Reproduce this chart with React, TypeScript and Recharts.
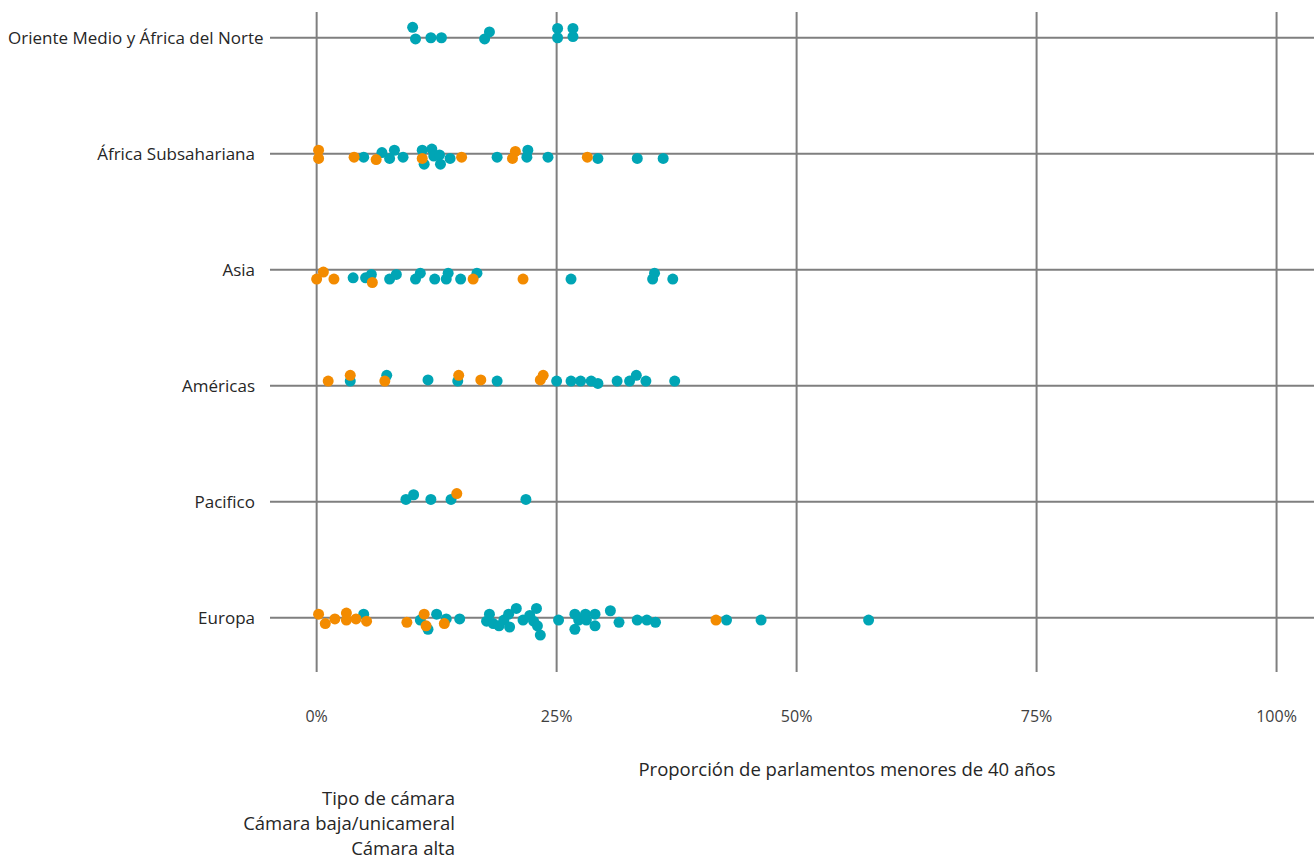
import { Legend, ReferenceLine, Scatter, ScatterChart, XAxis, YAxis } from "recharts";

// regions, top to bottom
const regions = [
  "Oriente Medio y África del Norte",
  "África Subsahariana",
  "Asia",
  "Américas",
  "Pacifico",
  "Europa"
];

const xTicks = [0, 25, 50, 75, 100];

// [% of MPs under 40, vertical jitter in row units]
const menaBaja = [[10.0, 0.09], [10.3, -0.01], [11.9, 0], [13.0, 0], [17.5, -0.01], [18.0, 0.05], [25.1, 0.08], [25.1, 0], [26.7, 0.08], [26.7, 0.01]];
const menaAlta: number[][] = [];

const africaBaja = [[4.9, -0.03], [6.8, 0.01], [7.6, -0.04], [8.1, 0.03], [9.0, -0.03], [11.0, 0.03], [11.2, -0.09], [12.0, 0.04], [12.2, -0.02], [12.8, -0.01], [12.9, -0.09], [13.9, -0.04], [18.8, -0.03], [21.9, -0.03], [22.0, 0.03], [24.1, -0.03], [29.3, -0.04], [33.4, -0.04], [36.1, -0.04]];
const africaAlta = [[0.2, 0.03], [0.2, -0.04], [3.9, -0.03], [6.2, -0.05], [11.0, -0.04], [15.1, -0.03], [20.7, 0.02], [20.4, -0.04], [28.2, -0.03]];

const asiaBaja = [[3.8, -0.07], [5.1, -0.07], [5.7, -0.04], [7.6, -0.08], [8.3, -0.04], [10.3, -0.08], [10.8, -0.03], [12.3, -0.08], [13.5, -0.08], [13.7, -0.03], [15.0, -0.08], [16.7, -0.03], [26.5, -0.08], [35.0, -0.08], [35.2, -0.03], [37.1, -0.08]];
const asiaAlta = [[0.0, -0.08], [0.7, -0.02], [1.8, -0.08], [5.8, -0.11], [16.3, -0.08], [21.5, -0.08]];

const americasBaja = [[3.5, 0.04], [7.3, 0.09], [11.6, 0.05], [14.7, 0.04], [18.8, 0.04], [25.0, 0.04], [26.5, 0.04], [27.5, 0.04], [28.6, 0.04], [29.3, 0.02], [31.3, 0.04], [32.6, 0.04], [33.3, 0.09], [34.3, 0.04], [37.3, 0.04]];
const americasAlta = [[1.2, 0.04], [3.5, 0.09], [7.1, 0.04], [14.8, 0.09], [17.1, 0.05], [23.3, 0.05], [23.6, 0.09]];

const pacificoBaja = [[9.3, 0.02], [10.1, 0.06], [11.9, 0.02], [14.0, 0.02], [21.8, 0.02]];
const pacificoAlta = [[14.6, 0.07]];

const europaBaja = [[4.9, 0.03], [10.8, -0.02], [11.6, -0.1], [12.5, 0.03], [13.5, -0.01], [14.9, -0.01], [17.7, -0.03], [18.0, 0.03], [18.4, -0.05], [19.0, -0.07], [19.5, -0.02], [20.0, 0.03], [20.1, -0.08], [20.8, 0.08], [21.5, -0.02], [22.2, 0.02], [22.6, -0.03], [22.9, 0.08], [23.0, -0.07], [23.3, -0.15], [25.2, -0.02], [26.9, 0.03], [26.9, -0.1], [27.3, -0.02], [28.0, 0.03], [28.1, -0.02], [29.0, 0.03], [29.0, -0.07], [30.6, 0.06], [31.5, -0.04], [33.4, -0.02], [34.4, -0.02], [35.3, -0.04], [42.7, -0.02], [46.3, -0.02], [57.5, -0.02]];
const europaAlta = [[0.2, 0.03], [0.9, -0.05], [1.9, -0.01], [3.1, 0.04], [3.1, -0.02], [4.1, -0.01], [5.2, -0.03], [9.4, -0.04], [11.2, 0.03], [11.4, -0.07], [13.3, -0.05], [41.6, -0.02]];

const bajaByRegion = [menaBaja, africaBaja, asiaBaja, americasBaja, pacificoBaja, europaBaja];
const altaByRegion = [menaAlta, africaAlta, asiaAlta, americasAlta, pacificoAlta, europaAlta];

const TEAL = "#00a5b5";
const ORANGE = "#f38b00";
const GRID = "#7f7f7f";
const FONT = "'Open Sans', sans-serif";

// first region on top
const rowOf = (i: number) => regions.length - 1 - i;
const rows = regions.map((_, i) => rowOf(i));

const toPoints = (groups: number[][][]) =>
  groups.flatMap((pts, i) => pts.map(([x, j]) => ({ x, y: rowOf(i) + j, region: regions[i] })));

const bajaData = toPoints(bajaByRegion);
const altaData = toPoints(altaByRegion);

const dot = (color: string) => (p: any) => <circle cx={p.cx} cy={p.cy} r={5.5} fill={color} />;

const RegionTick = (props: any) => {
  const label = regions[rowOf(props.payload.value)] ?? "";
  const long = label.length > 25;
  return (
    <text
      x={long ? 8 : 255}
      y={props.y}
      textAnchor={long ? "start" : "end"}
      dominantBaseline="central"
      fill="#262626"
      fontSize={17}
      fontFamily={FONT}
    >
      {label}
    </text>
  );
};

const LegendText = () => (
  <div style={{ textAlign: "right", fontFamily: FONT, fontSize: 18.5, lineHeight: "25px", color: "#262626" }}>
    <div>Tipo de cámara</div>
    <div>Cámara baja/unicameral</div>
    <div>Cámara alta</div>
  </div>
);

export default function App() {
  return (
    <div style={{ position: "absolute", left: 0, top: 0, background: "#fff" }}>
      <ScatterChart width={1314} height={858} margin={{ top: 12, right: 0, bottom: 0, left: 0 }}>
        <XAxis
          type="number"
          dataKey="x"
          domain={[-4.86, 103.9]}
          ticks={xTicks}
          allowDataOverflow
          axisLine={false}
          tickLine={false}
          tickSize={0}
          tickMargin={39}
          height={186}
          tickFormatter={(v) => `${v}%`}
          tick={{ fill: "#404040", fontSize: 16, fontFamily: FONT }}
          label={{
            value: "Proporción de parlamentos menores de 40 años",
            position: "insideBottom",
            offset: 82,
            dx: 55,
            fill: "#262626",
            fontSize: 18.5,
            fontFamily: FONT
          }}
        />
        <YAxis
          type="number"
          dataKey="y"
          domain={[-0.468, 5.222]}
          ticks={rows}
          allowDataOverflow
          axisLine={false}
          tickLine={false}
          width={270}
          tick={<RegionTick />}
        />
        {xTicks.map((t) => (
          <ReferenceLine key={`v-${t}`} x={t} stroke={GRID} strokeWidth={2} />
        ))}
        {rows.map((r) => (
          <ReferenceLine key={`h-${r}`} y={r} stroke={GRID} strokeWidth={2} />
        ))}
        <Legend
          layout="horizontal"
          verticalAlign="middle"
          content={<LegendText />}
          wrapperStyle={{ position: "absolute", left: 0, top: 785, width: 455 }}
        />
        <Scatter name="Cámara baja/unicameral" data={bajaData} fill={TEAL} shape={dot(TEAL)} isAnimationActive={false} />
        <Scatter name="Cámara alta" data={altaData} fill={ORANGE} shape={dot(ORANGE)} isAnimationActive={false} />
      </ScatterChart>
    </div>
  );
}
